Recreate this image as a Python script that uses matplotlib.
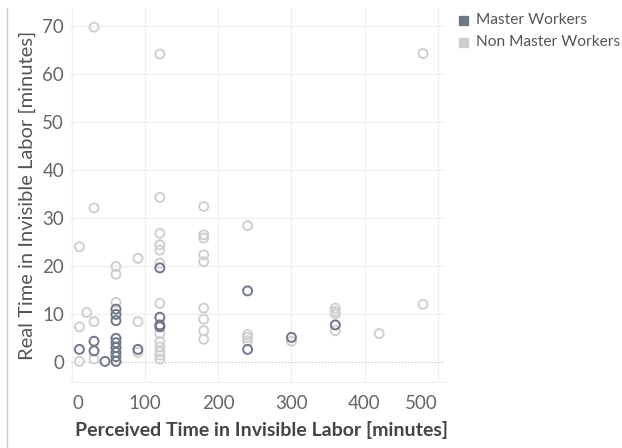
import matplotlib
matplotlib.use("Agg")
import matplotlib.pyplot as plt
from matplotlib.lines import Line2D
from matplotlib.patches import Rectangle

plt.rcParams['font.family'] = ['Lato', 'DejaVu Sans']

# perceived vs real time
master_x = [10, 30, 30, 45, 60, 60, 60, 60, 60, 60, 60, 60, 60, 90,
            120, 120, 120, 120, 240, 240, 300, 360]
master_y = [2.6, 4.3, 2.3, 0.1, 11.0, 9.9, 8.6, 4.9, 4.0, 2.0, 1.1, 0.1, 3.0, 2.6,
            19.6, 9.3, 7.7, 7.3, 14.8, 2.6, 5.1, 7.7]

non_master_x = [10, 10, 10, 20, 30, 30, 30, 30,
                60, 60, 60, 60, 90, 90, 90,
                120, 120, 120, 120, 120, 120, 120, 120, 120, 120, 120, 120, 120,
                180, 180, 180, 180, 180, 180, 180, 180, 180,
                240, 240, 240, 240, 300, 360, 360, 360, 360, 420, 480, 480]
non_master_y = [24.0, 7.3, 0.1, 10.3, 69.8, 32.1, 8.4, 0.6,
                19.9, 18.3, 12.4, 3.0, 21.6, 8.4, 2.0,
                64.2, 34.3, 26.8, 24.4, 23.3, 20.6, 12.2, 5.9, 4.2, 3.1, 2.1, 1.4, 0.6,
                32.4, 26.5, 25.8, 22.3, 20.9, 11.2, 8.9, 6.5, 4.7,
                28.4, 5.7, 5.1, 4.4, 4.3, 11.2, 10.5, 10.0, 6.5, 5.9, 64.3, 12.0]

x_ticks = [0, 100, 200, 300, 400, 500]
y_ticks = [0, 10, 20, 30, 40, 50, 60, 70]

dark = '#6f7788'
light = '#cfcfcf'

fig = plt.figure(figsize=(6.22, 4.48), dpi=100)
ax = fig.add_axes([71 / 622, 66 / 448, 374 / 622, 374 / 448])

ax.scatter(non_master_x, non_master_y, s=42, facecolors='none', edgecolors=light, linewidths=1.4, zorder=3)
ax.scatter(master_x, master_y, s=42, facecolors='none', edgecolors=dark, linewidths=1.4, zorder=4)

ax.set_xlim(-1.5, 510)
ax.set_ylim(-4.2, 73.8)

for t in x_ticks:
    ax.axvline(t, color='#f0f0f0', lw=1, zorder=0)
for t in y_ticks[1:]:
    ax.axhline(t, color='#f0f0f0', lw=1, zorder=0)
ax.axhline(0, color='#cccccc', lw=0.8, ls=(0, (1.5, 1.5)), zorder=1)

for s in ['top', 'right', 'left']:
    ax.spines[s].set_visible(False)
ax.spines['bottom'].set_color('#eeeeee')

ax.set_xticks(x_ticks)
ax.set_yticks(y_ticks)
ax.tick_params(length=0, labelsize=13.5, labelcolor='#666666')
ax.tick_params(axis='x', pad=9)
ax.tick_params(axis='y', pad=5)
xl = ax.get_xticklabels()
xl[0].set_ha('left')
xl[-1].set_ha('right')

ax.set_xlabel('Perceived Time in Invisible Labor [minutes]', fontsize=14, fontweight='bold',
              color='#444444')
ax.set_ylabel('Real Time in Invisible Labor [minutes]', fontsize=14.5, color='#555555')
ax.xaxis.label.set_va('center')
ax.xaxis.set_label_coords(0.51, -0.128)
ax.yaxis.label.set_va('center')
ax.yaxis.set_label_coords(-0.118, 0.5)

# pane border on the left
fig.add_artist(Line2D([7 / 622, 7 / 622], [0, 440 / 448], color='#cccccc', lw=1))

# legend
fig.add_artist(Rectangle((459 / 622, (448 - 25) / 448), 9 / 622, 9 / 448, color=dark))
fig.add_artist(Rectangle((459 / 622, (448 - 47) / 448), 9 / 622, 9 / 448, color=light))
fig.text(476 / 622, (448 - 20) / 448, 'Master Workers', fontsize=11.2, color='#555555', va='center')
fig.text(476 / 622, (448 - 42) / 448, 'Non Master Workers', fontsize=11.2, color='#555555', va='center')

fig.savefig('out.png', dpi=100)
